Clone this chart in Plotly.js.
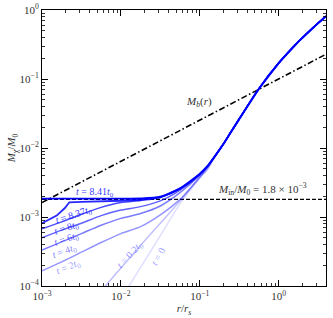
<!DOCTYPE html>
<html>
<head>
<meta charset="utf-8">
<script src="https://cdn.plot.ly/plotly-3.0.1.min.js"></script>
<style>html,body{margin:0;padding:0;background:#fff;}#chart{width:333px;height:318px;}</style>
</head>
<body>
<div id="chart"></div>
<script>
// tick labels
const xTickVals = [0.001, 0.01, 0.1, 1];
const xTickText = ['10<sup>−3</sup>', '10<sup>−2</sup>', '10<sup>−1</sup>', '10<sup>0</sup>'];
const yTickVals = [0.0001, 0.001, 0.01, 0.1, 1];
const yTickText = ['10<sup>−4</sup>', '10<sup>−3</sup>', '10<sup>−2</sup>', '10<sup>−1</sup>', '10<sup>0</sup>'];

// common outer profile (r / r_s, M / M0)
const rTail = [0.158, 0.2, 0.251, 0.316, 0.398, 0.562, 1, 1.78, 3.16, 3.98];
const mTail = [7.76e-3, 1.148e-2, 1.738e-2, 2.63e-2, 3.98e-2, 7.24e-2, 0.170, 0.347, 0.646, 0.813];

const r_t841 = [0.001, 0.00316, 0.01, 0.0178, 0.0316, 0.0562, 0.1, 0.126];
const m_t841 = [1.85e-3, 1.85e-3, 1.85e-3, 1.86e-3, 1.97e-3, 2.6e-3, 4.2e-3, 5.5e-3];

const r_t837 = [0.001, 0.001535, 0.00195, 0.00222, 0.00316, 0.00562, 0.01, 0.0178, 0.0316, 0.0562, 0.1, 0.126];
const m_t837 = [8.13e-4, 1.047e-3, 1.349e-3, 1.633e-3, 1.66e-3, 1.68e-3, 1.72e-3, 1.778e-3, 1.93e-3, 2.58e-3, 4.2e-3, 5.5e-3];

const rGrid = [0.001, 0.00178, 0.00316, 0.00562, 0.01, 0.0178, 0.0316, 0.0562, 0.1, 0.126];
const m_t8 = [6.76e-4, 8.51e-4, 1.096e-3, 1.38e-3, 1.622e-3, 1.738e-3, 1.92e-3, 2.55e-3, 4.18e-3, 5.5e-3];
const m_t6 = [5.01e-4, 6.46e-4, 8.13e-4, 1.047e-3, 1.259e-3, 1.413e-3, 1.71e-3, 2.45e-3, 4.14e-3, 5.5e-3];
const m_t4 = [3.31e-4, 4.365e-4, 5.75e-4, 7.59e-4, 9.55e-4, 1.122e-3, 1.445e-3, 2.25e-3, 4.02e-3, 5.4e-3];
const m_t2 = [1.66e-4, 2.239e-4, 3.09e-4, 4.266e-4, 5.75e-4, 7.24e-4, 1.072e-3, 1.8e-3, 3.82e-3, 5.25e-3];

const r_t02 = [0.00562, 0.01, 0.0178, 0.0316, 0.0562, 0.1, 0.126];
const m_t02 = [8.51e-5, 1.82e-4, 3.89e-4, 8.13e-4, 1.698e-3, 3.715e-3, 5.0e-3];

const r_t0 = [0.01, 0.0178, 0.0316, 0.0562, 0.1, 0.126];
const m_t0 = [6.46e-5, 1.862e-4, 5.37e-4, 1.549e-3, 3.63e-3, 4.9e-3];

const mbR = [0.001, 4];
const mbM = [1.62e-3, 0.229];
const minR = [0.001, 4];
const minM = [1.8e-3, 1.8e-3];

const labels = ['t = 0', 't = 0.2t0', 't = 2t0', 't = 4t0', 't = 6t0', 't = 8t0', 't = 8.37t0', 't = 8.41t0'];
const alphas = [0.13, 0.25, 0.42, 0.52, 0.62, 0.72, 0.85, 1.0];

const series = [
  [r_t0, m_t0], [r_t02, m_t02], [rGrid, m_t2], [rGrid, m_t4],
  [rGrid, m_t6], [rGrid, m_t8], [r_t837, m_t837], [r_t841, m_t841]
];

const traces = [];
traces.push({x: mbR, y: mbM, mode: 'lines', line: {color: 'black', width: 1.6, dash: '6px,2.5px,1.5px,2.5px'}, showlegend: false, hoverinfo: 'skip'});
traces.push({x: minR, y: minM, mode: 'lines', line: {color: 'black', width: 1.4, dash: '4px,2px'}, showlegend: false, hoverinfo: 'skip'});
series.forEach((s, i) => {
  traces.push({
    x: s[0].concat(rTail), y: s[1].concat(mTail), mode: 'lines', name: labels[i],
    line: {color: 'rgba(0,0,255,' + alphas[i] + ')', width: i >= 6 ? 1.8 : 1.5, shape: i === 6 ? 'linear' : 'spline', smoothing: 0.7},
    showlegend: false, hoverinfo: 'skip'
  });
});

const FONT = 'Liberation Serif, DejaVu Serif, serif';
function lab(txt, x, y, ang, a) {
  return {text: txt, x: x, y: y, xref: 'x', yref: 'y', showarrow: false, textangle: ang,
    font: {family: FONT, size: 10, color: 'rgba(0,0,255,' + a + ')'}};
}
const sub0 = '<sub>0</sub>';
const annotations = [
  lab('<i>t</i> = 8.41<i>t</i>' + sub0, -2.33, -2.64, 0, 0.8),
  lab('<i>t</i> = 8.37<i>t</i>' + sub0, -2.60, -2.98, -18, 0.8),
  lab('<i>t</i> = 8<i>t</i>' + sub0, -2.69, -3.16, -18, 0.72),
  lab('<i>t</i> = 6<i>t</i>' + sub0, -2.69, -3.32, -18, 0.62),
  lab('<i>t</i> = 4<i>t</i>' + sub0, -2.71, -3.50, -20, 0.52),
  lab('<i>t</i> = 2<i>t</i>' + sub0, -2.667, -3.735, -22, 0.45),
  lab('<i>t</i> = 0.2<i>t</i>' + sub0, -1.873, -3.55, -47, 0.45),
  lab('<i>t</i> = 0', -1.528, -3.575, -60, 0.4),
  {text: '<i>M</i><sub><i>b</i></sub>(<i>r</i>)', x: -1.01, y: -1.34, xref: 'x', yref: 'y', showarrow: false,
   font: {family: FONT, size: 11, color: '#333'}},
  {text: '<i>M</i><sub>in</sub>/<i>M</i><sub>0</sub> = 1.8 × 10<sup>−3</sup>', x: -0.20, y: -2.59, xref: 'x', yref: 'y', showarrow: false,
   font: {family: FONT, size: 11, color: '#333'}}
];

const axisCommon = {
  type: 'log', tickmode: 'array', showgrid: false, zeroline: false,
  showline: true, linecolor: 'black', linewidth: 1, mirror: 'allticks',
  ticks: 'inside', ticklen: 6, tickcolor: 'black', tickwidth: 1,
  minor: {ticks: 'inside', ticklen: 3, tickcolor: 'black', tickwidth: 0.8, showgrid: false, dtick: 'D1'},
  tickfont: {family: FONT, size: 11, color: '#333'}
};

const layout = {
  width: 333, height: 318,
  margin: {l: 42, r: 7, t: 10, b: 32},
  paper_bgcolor: 'white', plot_bgcolor: 'white',
  xaxis: Object.assign({}, axisCommon, {range: [-3, 0.6], tickvals: xTickVals, ticktext: xTickText,
    title: {text: '<i>r</i>/<i>r</i><sub><i>s</i></sub>', standoff: 3, font: {family: FONT, size: 11, color: '#333'}}}),
  yaxis: Object.assign({}, axisCommon, {range: [-4, 0], tickvals: yTickVals, ticktext: yTickText,
    title: {text: '<i>M</i><sub>χ</sub>/<i>M</i><sub>0</sub>', standoff: 1, font: {family: FONT, size: 11, color: '#333'}}}),
  annotations: annotations
};

Plotly.newPlot('chart', traces, layout, {displayModeBar: false, staticPlot: true});
</script>
</body>
</html>
